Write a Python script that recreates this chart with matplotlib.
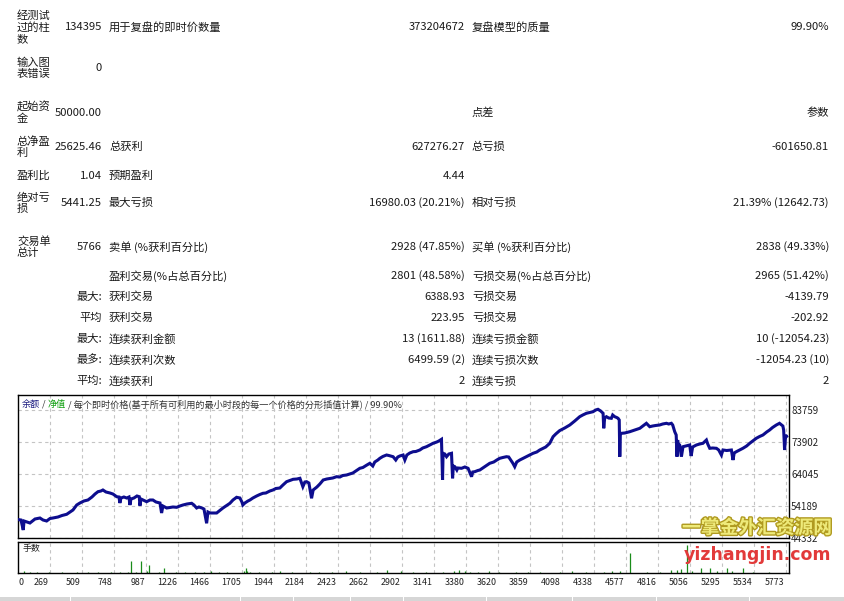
import matplotlib
matplotlib.use("Agg")
import matplotlib.pyplot as plt
from matplotlib.patches import Rectangle
import matplotlib.patheffects as pe

plt.rcParams["font.family"] = ["Noto Sans CJK SC", "DejaVu Sans"]

# ---------------- report table ----------------
# each row: [label, value, label, value, label, value]
report_rows = [
    ["经测试\n过的柱\n数", "134395", "用于复盘的即时价数量", "373204672", "复盘模型的质量", "99.90%"],
    ["输入图\n表错误", "0", "", "", "", ""],
    ["起始资\n金", "50000.00", "", "", "点差", "参数"],
    ["总净盈\n利", "25625.46", "总获利", "627276.27", "总亏损", "-601650.81"],
    ["盈利比", "1.04", "预期盈利", "4.44", "", ""],
    ["绝对亏\n损", "5441.25", "最大亏损", "16980.03 (20.21%)", "相对亏损", "21.39% (12642.73)"],
    ["交易单\n总计", "5766", "卖单 (%获利百分比)", "2928 (47.85%)", "买单 (%获利百分比)", "2838 (49.33%)"],
    ["", "", "盈利交易(%占总百分比)", "2801 (48.58%)", "亏损交易(%占总百分比)", "2965 (51.42%)"],
    ["", "最大:", "获利交易", "6388.93", "亏损交易", "-4139.79"],
    ["", "平均", "获利交易", "223.95", "亏损交易", "-202.92"],
    ["", "最大:", "连续获利金额", "13 (1611.88)", "连续亏损金额", "10 (-12054.23)"],
    ["", "最多:", "连续获利次数", "6499.59 (2)", "连续亏损次数", "-12054.23 (10)"],
    ["", "平均:", "连续获利", "2", "连续亏损", "2"],
]

# ---------------- balance curve (trade number, balance) ----------------
trade_no = [
    0, 20, 37, 43, 87, 125, 162, 185, 212, 237, 259, 297, 327, 362, 387, 409, 437, 461,
    491, 521, 551, 574, 596, 618, 633, 656, 686, 708, 736, 753, 760, 768, 790, 811, 828,
    835, 843, 865, 888, 905, 910, 918, 933, 960, 985, 1007, 1030, 1060, 1072, 1082, 1110,
    1134, 1157, 1185, 1209, 1232, 1262, 1297, 1314, 1334, 1351, 1374, 1389, 1409, 1419,
    1434, 1456, 1484, 1508, 1531, 1553, 1583, 1606, 1633, 1658, 1673, 1680, 1695, 1718,
    1733, 1755, 1783, 1807, 1830, 1852, 1882, 1905, 1927, 1957, 1980, 2007, 2032, 2056,
    2084, 2107, 2129, 2144, 2157, 2174, 2194, 2206, 2234, 2256, 2281, 2308, 2331, 2353,
    2381, 2406, 2428, 2456, 2480, 2503, 2525, 2555, 2578, 2608, 2630, 2652, 2667, 2690,
    2705, 2727, 2755, 2772, 2804, 2824, 2839, 2854, 2879, 2892, 2907, 2929, 2954, 2974,
    3004, 3026, 3054, 3079, 3103, 3131, 3146, 3166, 3174, 3178, 3191, 3204, 3221, 3241,
    3249, 3255, 3266, 3281, 3288, 3316, 3341, 3365, 3391, 3400, 3415, 3438, 3453, 3475,
    3498, 3527, 3557, 3580, 3602, 3625, 3652, 3669, 3684, 3699, 3714, 3729, 3752, 3782,
    3812, 3851, 3879, 3901, 3926, 3946, 3976, 4001, 4021, 4050, 4088, 4126, 4163, 4200,
    4223, 4250, 4275, 4300, 4320, 4337, 4357, 4375, 4380, 4387, 4400, 4417, 4437, 4447,
    4462, 4477, 4487, 4496, 4500, 4504, 4513, 4537, 4575, 4612, 4650, 4672, 4699, 4724,
    4746, 4768, 4798, 4821, 4849, 4866, 4886, 4896, 4911, 4922, 4928, 4933, 4935, 4948,
    4961, 4973, 4993, 5023, 5034, 5045, 5073, 5098, 5122, 5148, 5158, 5173, 5195, 5223,
    5240, 5260, 5272, 5300, 5335, 5347, 5356, 5372, 5397, 5421, 5449, 5472, 5494, 5521,
    5546, 5571, 5599, 5621, 5643, 5671, 5695, 5720, 5726, 5733, 5741, 5748,
]
balance = [
    50000, 49876, 46796, 49568, 48952, 50184, 50492, 49876, 49568, 50338, 50492, 50800,
    51262, 51632, 52340, 52956, 54496, 55112, 55728, 56036, 56960, 57884, 58592, 58808,
    59116, 58500, 58192, 57884, 57052, 56960, 55112, 56652, 56960, 56652, 56960, 54496,
    56344, 56652, 57268, 57052, 54270, 56344, 56036, 55512, 56036, 56036, 55420, 55112,
    52032, 54188, 53572, 53726, 53880, 53788, 54188, 54496, 54804, 55020, 54496, 53572,
    53880, 53572, 53264, 48860, 52340, 52032, 52032, 52032, 52802, 53572, 54188, 55020,
    56036, 56868, 56652, 55420, 54496, 55112, 55728, 56036, 56652, 57268, 57730, 58100,
    58192, 58808, 59116, 59578, 59732, 60656, 61672, 62042, 62412, 62504, 62720, 60132,
    61580, 61672, 61272, 56560, 59116, 60040, 60964, 62196, 62504, 62658, 62812, 63212,
    63120, 63582, 63736, 64044, 64352, 64968, 65800, 66046, 66816, 67340, 66508, 67740,
    68356, 68880, 69434, 69896, 69742, 69372, 68356, 69280, 69588, 69896, 68356, 69896,
    70512, 70912, 70974, 71436, 72052, 72452, 72976, 73500, 73900, 74208, 74732, 62212,
    70420, 70204, 69372, 70204, 70420, 62720, 66508, 66292, 65276, 65892, 65800, 66200,
    65800, 63212, 64660, 64752, 65122, 65276, 65892, 66508, 67340, 67740, 68356, 68880,
    69126, 69372, 69280, 68356, 67432, 66292, 67740, 68356, 68972, 69588, 70420, 70820,
    71436, 71960, 72360, 73500, 75532, 76364, 77400, 78212, 79136, 80368, 81692, 82216,
    82740, 82986, 83232, 83756, 83972, 83448, 82740, 78120, 81292, 81692, 81292, 81200,
    82216, 81692, 81446, 81200, 80676, 69372, 76364, 76580, 76672, 77072, 77596, 78120,
    78828, 79660, 78612, 78828, 78982, 79136, 79444, 79660, 79444, 79660, 79136, 77072,
    76056, 69372, 74516, 73500, 72976, 69372, 72452, 72668, 72976, 69588, 72360, 72976,
    73284, 73500, 74516, 73284, 71960, 72052, 71960, 71436, 69896, 71436, 71282, 71436,
    68356, 70512, 70912, 71436, 71960, 72668, 73500, 74208, 75040, 75594, 76056, 76980,
    77596, 78366, 79136, 79660, 78828, 77596, 71436, 76056, 75625,
]

# ---------------- lots per trade (selected non-trivial values) ----------------
lot_trade = [40, 90, 140, 230, 330, 440, 520, 600, 690, 760, 820, 843, 880, 918, 960,
             977, 1050, 1090, 1180, 1250, 1320, 1390, 1440, 1500, 1560, 1690, 1700, 1710,
             1730, 1800, 1900, 1960, 2050, 2180, 2250, 2350, 2450, 2560, 2680, 2760, 2860,
             2950, 3050, 3180, 3260, 3300, 3340, 3380, 3440, 3520, 3600, 3720, 3810, 3900,
             4050, 4140, 4250, 4380, 4440, 4500, 4574, 4700, 4800, 4880, 4930, 4960, 5001,
             5040, 5110, 5172, 5230, 5300, 5340, 5419, 5500, 5620]
lot_size = [2, 1, 1, 1, 1, 1, 1, 1, 1, 1, 1, 12, 1, 12, 2, 8, 1, 5, 1, 1, 1, 1, 2, 1, 1,
            2, 5, 2, 1, 1, 1, 2, 1, 1, 1, 1, 2, 1, 1, 3, 2, 1, 1, 1, 2, 3, 2, 1, 1, 2,
            1, 1, 1, 1, 1, 2, 1, 1, 2, 2, 19, 1, 1, 3, 3, 4, 27, 2, 5, 5, 2, 5, 2, 5, 1, 1]

# ---------------- axis labels ----------------
price_ticks = [44332, 54189, 64045, 73902, 83759]
trade_tick_labels = ["269", "509", "748", "987", "1226", "1466", "1705", "1944", "2184",
                     "2423", "2662", "2902", "3141", "3380", "3620", "3859", "4098",
                     "4338", "4577", "4816", "5056", "5295", "5534", "5773"]
total_trades = 5766
price_top = 88376

W, H = 845, 601
fig = plt.figure(figsize=(W / 100, H / 100), dpi=100)
fig.patch.set_facecolor("white")


def fx(px):
    return px / W


def fy(py):
    return 1 - py / H


TXT = "#1a1a1a"
FS = 8.1

# table layout
row_y = [27, 68, 113, 147, 176, 203, 247, 276, 297, 318, 339, 360, 381]
col_x = [17, 102, 109, 465, 472, 829]
col_ha = ["left", "right", "left", "right", "left", "right"]
for ry, row in zip(row_y, report_rows):
    for cx, ha, cell in zip(col_x, col_ha, row):
        if cell:
            fig.text(fx(cx), fy(ry), cell, ha=ha, va="center", fontsize=FS,
                     color=TXT, linespacing=1.12)

# balance chart
ax = fig.add_axes([fx(18.3), fy(538), (789 - 18.3) / W, (538 - 395) / H])
ax.plot(trade_no, balance, color="#0d0d8e", lw=2.2, solid_joinstyle="miter",
        zorder=3)
ax.set_xlim(0, total_trades)
ax.set_ylim(price_ticks[0], price_top)
grid_step = total_trades * 32 / 771
grid_x = [grid_step * (k + 1) for k in range(len(trade_tick_labels))]
ax.set_xticks(grid_x)
ax.set_xticklabels([])
ax.set_yticks(price_ticks)
ax.set_yticklabels([str(v) for v in price_ticks])
ax.yaxis.tick_right()
ax.tick_params(axis="both", length=0)
ax.tick_params(axis="y", pad=1.5, labelsize=7.0, labelcolor="#222222")
ax.grid(True, ls=(0, (3, 3)), color="#c4c4c4", lw=0.8)
for s in ax.spines.values():
    s.set_color("#000000")
    s.set_linewidth(1.0)

title_parts = [("余额", "#1a1a80"), (" / ", "#333333"), ("净值", "#11a011"),
               (" / 每个即时价格(基于所有可利用的最小时段的每一个价格的分形插值计算) / 99.90%",
                "#333333")]
tx = 22
renderer = fig.canvas.get_renderer()
for part, colr in title_parts:
    t = fig.text(fx(tx), fy(404), part, ha="left", va="center", fontsize=6.6,
                 color=colr)
    bb = t.get_window_extent(renderer=renderer)
    tx += bb.width

# lots panel
axv = fig.add_axes([fx(18.3), fy(573), (789 - 18.3) / W, (573 - 542) / H])
axv.vlines(lot_trade, 0, lot_size, color="#1a8c1a", lw=0.9)
axv.set_xlim(0, total_trades)
axv.set_ylim(0, 30)
axv.set_xticks(grid_x)
axv.set_yticks([])
axv.set_xticklabels([])
axv.tick_params(axis="x", length=0)
axv.grid(True, axis="x", ls=(0, (3, 3)), color="#c4c4c4", lw=0.8)
for s in axv.spines.values():
    s.set_color("#000000")
    s.set_linewidth(1.0)
axv.text(0.006, 0.78, "手数", transform=axv.transAxes, fontsize=6.4, color="#222222",
         ha="left", va="center")
# trade-number labels sit just left of each grid line
for gx, lab in zip(grid_x, trade_tick_labels):
    axv.annotate(lab, xy=(gx, 0), xycoords=("data", "axes fraction"),
                 xytext=(-1, -6.5), textcoords="offset points", ha="right",
                 va="center", fontsize=6.4, color="#222222")
axv.annotate("0", xy=(0, 0), xycoords=("data", "axes fraction"), xytext=(2, -6.5),
             textcoords="offset points", ha="center", va="center", fontsize=6.4,
             color="#222222")

# bottom header strip
fig.patches.append(Rectangle((0, 0), 1, fy(596.5), transform=fig.transFigure,
                             facecolor="#d6d6d6", edgecolor="none"))
for sx in [70, 240, 293, 350, 403, 486, 572, 656, 749]:
    fig.patches.append(Rectangle((fx(sx), 0), 1.2 / W, fy(596.5),
                                 transform=fig.transFigure, facecolor="white",
                                 edgecolor="none"))

# site watermark
fig.text(fx(757), fy(528), "一掌金外汇资源网", fontsize=13.5, fontweight="bold",
         color="#eeea7a", ha="center", va="center",
         path_effects=[pe.withStroke(linewidth=2, foreground="#b09a20")])
fig.text(fx(758), fy(555), "yizhangjin.com", fontsize=12.5, fontweight="bold",
         color="#e23a3a", ha="center", va="center", family=["DejaVu Sans"])

fig.savefig("out.png", dpi=100)
